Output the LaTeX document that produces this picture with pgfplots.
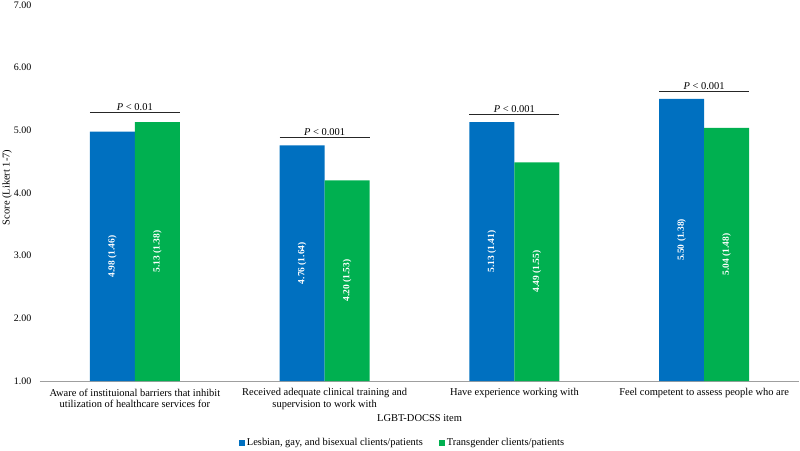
\documentclass[border=0pt]{standalone}
\usepackage{pgfplots}
\pgfplotsset{compat=1.18}
\usepackage{fontspec}
\setmainfont{Liberation Serif}
\definecolor{cblue}{HTML}{0070C0}
\definecolor{cgreen}{HTML}{00B050}
\begin{document}
\begin{tikzpicture}
\begin{axis}[
  scale only axis,
  width=759bp, height=376bp,
  ybar,
  bar width=0.237,
  xmin=-0.5, xmax=3.5,
  ymin=1, ymax=7,
  ytick={1,2,3,4,5,6,7},
  xtick={0,1,2,3},
  xticklabels={{Aware of instituional barriers that inhibit\\utilization of healthcare services for},
               {Received adequate clinical training and\\supervision to work with},
               {Have experience working with},
               {Feel competent to assess people who are}},
  xticklabel style={align=center, anchor=north, font=\fontsize{10.5}{11.5}\selectfont, yshift=-2bp},
  yticklabel style={/pgf/number format/.cd, fixed, fixed zerofill, precision=2, /tikz/.cd, font=\fontsize{10}{12}\selectfont, xshift=-3bp},
  /pgf/number format/assume math mode=true,
  axis x line=bottom, axis y line=left,
  x axis line style={-, draw=gray!75, line width=0.8pt},
  y axis line style={draw=none},
  tick style={draw=none},
  xlabel={LGBT-DOCSS item},
  xlabel style={font=\fontsize{10.5}{12}\selectfont, at={(rel axis cs:0.5,0)}, anchor=center, yshift=-37bp},
  ylabel={Score (Likert 1-7)},
  ylabel style={font=\fontsize{10.5}{11}\selectfont, at={(rel axis cs:0,0.515)}, anchor=center, yshift=33bp},
  legend style={draw=none, at={(0.4776,-0.165)}, anchor=center, legend columns=2,
     font=\fontsize{10.5}{12}\selectfont, /tikz/every even column/.append style={column sep=14bp}},
  legend image code/.code={\fill[#1] (0bp,-3bp) rectangle (6bp,3bp);},
]
\addplot[fill=cblue, draw=none, bar shift=-0.1185] coordinates {(0,4.98) (1,4.76) (2,5.13) (3,5.50)};
\addplot[fill=cgreen, draw=none, bar shift=0.1185] coordinates {(0,5.13) (1,4.20) (2,4.49) (3,5.04)};
\legend{{Lesbian, gay, and bisexual clients/patients}, {Transgender clients/patients}}
% value labels
\begin{scope}[every node/.style={rotate=90, text=white, font=\bfseries\fontsize{9.5}{10}\selectfont}]
\node at (axis cs:-0.1185,2.99) {4.98 (1.46)};
\node at (axis cs:0.1185,3.065) {5.13 (1.38)};
\node at (axis cs:0.8815,2.88) {4.76 (1.64)};
\node at (axis cs:1.1185,2.60) {4.20 (1.53)};
\node at (axis cs:1.8815,3.065) {5.13 (1.41)};
\node at (axis cs:2.1185,2.745) {4.49 (1.55)};
\node at (axis cs:2.8815,3.25) {5.50 (1.38)};
\node at (axis cs:3.1185,3.02) {5.04 (1.48)};
\end{scope}
% significance brackets
\draw[gray!30!black, line width=0.7pt] (axis cs:-0.237,5.28) -- (axis cs:0.237,5.28);
\draw[gray!30!black, line width=0.7pt] (axis cs:0.763,4.89) -- (axis cs:1.237,4.89);
\draw[gray!30!black, line width=0.7pt] (axis cs:1.763,5.26) -- (axis cs:2.237,5.26);
\draw[gray!30!black, line width=0.7pt] (axis cs:2.763,5.63) -- (axis cs:3.237,5.63);
\begin{scope}[every node/.style={anchor=south, inner sep=1.5bp, font=\fontsize{10.5}{12}\selectfont}]
\node at (axis cs:0,5.28) {\textit{P} < 0.01};
\node at (axis cs:1,4.89) {\textit{P} < 0.001};
\node at (axis cs:2,5.26) {\textit{P} < 0.001};
\node at (axis cs:3,5.63) {\textit{P} < 0.001};
\end{scope}
\coordinate (bl) at (rel axis cs:0,0);
\coordinate (tr) at (rel axis cs:1,1);
\end{axis}
\pgfresetboundingbox
\path[use as bounding box] ([shift={(-40bp,-69bp)}]bl) rectangle ([shift={(1bp,5bp)}]tr);
\end{tikzpicture}
\end{document}
